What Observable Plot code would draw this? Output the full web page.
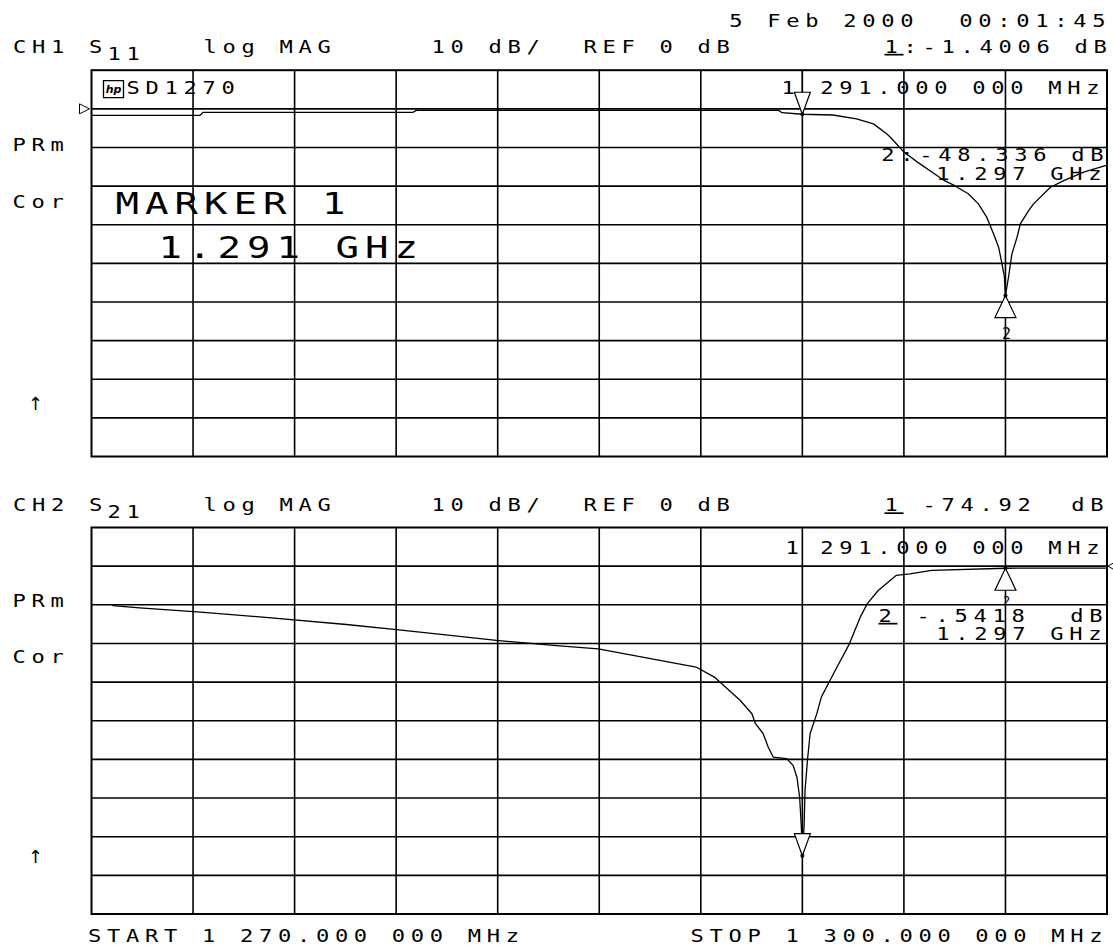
<!DOCTYPE html>
<html><head><meta charset="utf-8">
<script src="https://cdn.jsdelivr.net/npm/d3@7"></script>
<script src="https://cdn.jsdelivr.net/npm/@observablehq/plot@0.6"></script>
<style>
html,body{margin:0;padding:0;background:#fff;}
#wrap{position:relative;width:1113px;height:949px;overflow:hidden;background:#fff;}
#wrap svg{position:absolute;left:0;}
g[font-size="17.01"] text{text-decoration:underline;}
</style></head><body><div id="wrap"></div>
<script>
// ---------------- data ----------------
const freqTicks = [1270,1273,1276,1279,1282,1285,1288,1291,1294,1297,1300];
const dbTicks = [10,0,-10,-20,-30,-40,-50,-60,-70,-80,-90];
const refLevel = [0];

const s11Freq = [1270.0,1273.2,1273.3,1279.5,1279.6,1290.3,1290.4,1291.0,1291.9,1292.6,1293.1,1293.5,1293.65,1294.0,1294.4,1294.9,1295.2,1295.5,1295.9,1296.2,1296.45,1296.65,1296.8,1296.9,1296.97,1297.0,1297.09,1297.19,1297.34,1297.44,1297.69,1297.83,1298.33,1298.72,1299.31,1300.0];
const s11Db = [-1.7,-1.7,-0.9,-0.9,-0.4,-0.4,-1.0,-1.4,-1.6,-2.6,-3.9,-6.5,-7.8,-11.2,-13.8,-16.8,-18.6,-19.9,-22.0,-24.6,-28.1,-32.4,-35.9,-40.2,-43.6,-48.3,-43.6,-37.6,-33.3,-29.8,-26.3,-24.6,-20.3,-18.6,-16.4,-14.6];

const s21Freq = [1270.63,1271.42,1273.22,1275.23,1277.53,1279.01,1280.60,1281.96,1283.64,1284.97,1287.86,1288.40,1289.16,1289.51,1289.61,1289.84,1289.99,1290.14,1290.54,1290.73,1290.84,1290.92,1290.97,1291.00,1291.05,1291.08,1291.15,1291.23,1291.43,1291.56,1291.97,1292.39,1292.71,1292.92,1293.24,1293.77,1294.18,1294.82,1297.0,1300.0];
const s21Db = [-10.2,-10.8,-11.9,-13.3,-15.1,-16.4,-17.9,-19.2,-20.5,-21.4,-26.1,-28.7,-34.7,-38.2,-40.7,-43.3,-46.8,-49.4,-49.8,-51.6,-54.6,-59.8,-67.5,-74.92,-67.5,-58.0,-50.3,-43.3,-38.1,-33.9,-27.0,-20.1,-13.2,-9.7,-6.3,-2.4,-2.0,-1.1,-0.54,-0.5];

const markerFreq = [1291, 1297];
const s11MarkerDb = [-1.4006, -48.336];
const s21MarkerDb = [-74.92, -0.5418];

const dateText = ["5 Feb 2000", "00:01:45"];
const ch1Header = ["CH1 S", "11", "log MAG", "10 dB/", "REF 0 dB", "1", ":-1.4006 dB"];
const ch2Header = ["CH2 S", "21", "log MAG", "10 dB/", "REF 0 dB", "1", "-74.92", "dB"];
const sideLabels = ["PRm", "Cor", "\u2191"];
const ch1Texts = ["hp", "SD1270", "1", "291.000 000 MHz", "MARKER 1", "1.291 GHz", "2:-48.336 dB", "1.297 GHz", "2"];
const ch2Texts = ["1", "291.000 000 MHz", "2", "-.5418", "dB", "1.297 GHz", "2"];
const sweepText = ["START 1 270.000 000 MHz", "STOP 1 300.000 000 MHz"];

// ---------------- helpers ----------------
const W = 1113, ML = 91, MR = 6.5;
// per font size: horizontal stretch and letter spacing (local units) -> pitch 19 px / 29.5 px
const FONT = {17: {sx: 1.3, ls: 4.38}, 17.01: {sx: 1.3, ls: 4.38}, 30: {sx: 1.3, ls: 4.63}};
const triDown = {draw(c){ c.moveTo(0,0); c.lineTo(-8,-22); c.lineTo(8,-22); c.closePath(); }};
const triUp = {draw(c){ c.moveTo(0,0); c.lineTo(-10.5,22); c.lineTo(10.5,22); c.closePath(); }};
const refLeft = {draw(c){ c.moveTo(-2,0); c.lineTo(-12,-5); c.lineTo(-12,5); c.closePath(); }};
const refRight = {draw(c){ c.moveTo(1,0); c.lineTo(7,-3.5); c.lineTo(7,3.5); c.closePath(); }};
const logoBox = {draw(c){ c.rect(12, 10.5, 20, 17); }};

function texter(frameTop) {
  return (s, x, y, o = {}) => {
    const size = o.size ?? 17;
    const anchor = o.anchor ?? "start";
    const f = FONT[size];
    const adv = f ? f.ls * f.sx : 0;
    return Plot.text([s], {
      frameAnchor: "top-left",
      dx: x - ML + (anchor === "end" ? adv : anchor === "middle" ? adv / 2 : 0),
      dy: y - frameTop,
      textAnchor: anchor, lineAnchor: "middle",
      fontSize: size, fill: "black",
      fontFamily: o.family ?? "DejaVu Sans Mono",
      fontStyle: o.style, fontWeight: o.weight
    });
  };
}

function widen(svg) {
  svg.querySelectorAll("g[font-size]").forEach(g => {
    const f = FONT[+g.getAttribute("font-size")];
    if (!f) return;
    g.querySelectorAll("text").forEach(t => {
      t.setAttribute("letter-spacing", f.ls + "px");
      t.setAttribute("transform", (t.getAttribute("transform") || "") + ` scale(${f.sx},1)`);
    });
  });
  return svg;
}

function basePlot(height, mt, mb, marks) {
  return widen(Plot.plot({
    width: W, height, marginLeft: ML, marginRight: MR, marginTop: mt, marginBottom: mb,
    x: {domain: [1270, 1300], axis: null},
    y: {domain: [-90, 10], axis: null},
    style: {fontFamily: "DejaVu Sans Mono", background: "white", overflow: "visible"},
    marks: [
      Plot.ruleX(freqTicks.slice(1, -1), {stroke: "black", strokeWidth: 1.6}),
      Plot.ruleY(dbTicks.slice(1, -1), {stroke: "black", strokeWidth: 1.6}),
      Plot.frame({stroke: "black", strokeWidth: 2}),
      ...marks
    ]
  }));
}

const wrap = document.getElementById("wrap");

// ---------------- top panel (CH1 S11) ----------------
{
  const top = 0, H = 480, frameTop = 69.7, frameBottom = 456;
  const T = texter(frameTop);
  const s11 = s11Freq.map((f, i) => ({f, db: s11Db[i]}));
  const mk = markerFreq.map((f, i) => ({f, db: s11MarkerDb[i]}));
  const svg = basePlot(H, frameTop - top, top + H - frameBottom, [
    Plot.line(s11, {x: "f", y: "db", stroke: "black", strokeWidth: 1.3}),
    Plot.dot(refLevel, {x: () => freqTicks[0], y: d => d, symbol: refLeft, r: 5, stroke: "black", fill: "white", strokeWidth: 1}),
    Plot.dot([0], {x: () => freqTicks[0], y: () => dbTicks[0], symbol: logoBox, r: 5, stroke: "black", fill: "none", strokeWidth: 1.3}),
    Plot.ruleX([mk[0]], {x: "f", y1: "db", y2: () => dbTicks[0], insetTop: -5, stroke: "black", strokeWidth: 1.3}),
    Plot.dot([mk[0]], {x: "f", y: "db", symbol: triDown, r: 8, stroke: "black", fill: "white", strokeWidth: 1.2}),
    Plot.dot([mk[1]], {x: "f", y: "db", symbol: triUp, r: 8, stroke: "black", fill: "white", strokeWidth: 1.2}),
    Plot.dot(mk, {x: "f", y: "db", r: 2, fill: "black"}),
    T(dateText[0], 913, 21, {anchor: "end"}),
    T(dateText[1], 1105, 21, {anchor: "end"}),
    T(ch1Header[0], 12.5, 47),
    T(ch1Header[1], 107, 54),
    T(ch1Header[2], 203, 47),
    T(ch1Header[3], 431, 47),
    T(ch1Header[4], 583, 47),
    T(ch1Header[5], 884, 47, {size: 17.01}),
    T(ch1Header[6], 903, 47),
    T(ch1Texts[0], 113, 89, {anchor: "middle", size: 11, style: "italic", weight: "bold", family: "DejaVu Sans"}),
    T(ch1Texts[1], 126, 88),
    T(ch1Texts[2], 781, 88),
    T(ch1Texts[3], 1099, 88, {anchor: "end"}),
    T(sideLabels[0], 12, 145),
    T(sideLabels[1], 12, 202),
    T(sideLabels[2], 35, 404, {anchor: "middle", size: 18, family: "DejaVu Sans"}),
    T(ch1Texts[4], 115, 204, {size: 30}),
    T(ch1Texts[5], 158, 248, {size: 30}),
    T(ch1Texts[6], 1103, 155, {anchor: "end"}),
    T(ch1Texts[7], 1101, 174, {anchor: "end"}),
    T(ch1Texts[8], 1006, 334, {anchor: "middle", size: 15})
  ]);
  svg.style.top = top + "px";
  wrap.appendChild(svg);
}

// ---------------- bottom panel (CH2 S21) ----------------
{
  const top = 480, H = 469, frameTop = 527, frameBottom = 913.5;
  const T = texter(frameTop);
  const s21 = s21Freq.map((f, i) => ({f, db: s21Db[i]}));
  const mk = markerFreq.map((f, i) => ({f, db: s21MarkerDb[i]}));
  const svg = basePlot(H, frameTop - top, top + H - frameBottom, [
    Plot.line(s21, {x: "f", y: "db", stroke: "black", strokeWidth: 1.3}),
    Plot.dot(refLevel, {x: () => freqTicks[freqTicks.length - 1], y: d => d, symbol: refRight, r: 4, stroke: "black", fill: "white", strokeWidth: 1}),
    Plot.dot([mk[0]], {x: "f", y: "db", symbol: triDown, r: 8, stroke: "black", fill: "white", strokeWidth: 1.2}),
    Plot.dot([mk[1]], {x: "f", y: "db", symbol: triUp, r: 8, stroke: "black", fill: "white", strokeWidth: 1.2}),
    Plot.dot(mk, {x: "f", y: "db", r: 2, fill: "black"}),
    T(ch2Header[0], 12.5, 505.5),
    T(ch2Header[1], 107, 512.5),
    T(ch2Header[2], 203, 505.5),
    T(ch2Header[3], 431, 505.5),
    T(ch2Header[4], 583, 505.5),
    T(ch2Header[5], 884, 505.5, {size: 17.01}),
    T(ch2Header[6], 922, 505.5),
    T(ch2Header[7], 1103, 505.5, {anchor: "end"}),
    T(ch2Texts[0], 785, 548),
    T(ch2Texts[1], 1099, 548, {anchor: "end"}),
    T(sideLabels[0], 12, 601),
    T(sideLabels[1], 12, 657),
    T(sideLabels[2], 35, 857, {anchor: "middle", size: 18, family: "DejaVu Sans"}),
    T(ch2Texts[2], 878, 616, {size: 17.01}),
    T(ch2Texts[3], 916, 616),
    T(ch2Texts[4], 1102, 616, {anchor: "end"}),
    T(ch2Texts[5], 1101, 634, {anchor: "end"}),
    T(ch2Texts[6], 1006, 601, {anchor: "middle", size: 12}),
    T(sweepText[0], 87.5, 936),
    T(sweepText[1], 690, 936)
  ]);
  svg.style.top = top + "px";
  wrap.appendChild(svg);
}
</script></body></html>
